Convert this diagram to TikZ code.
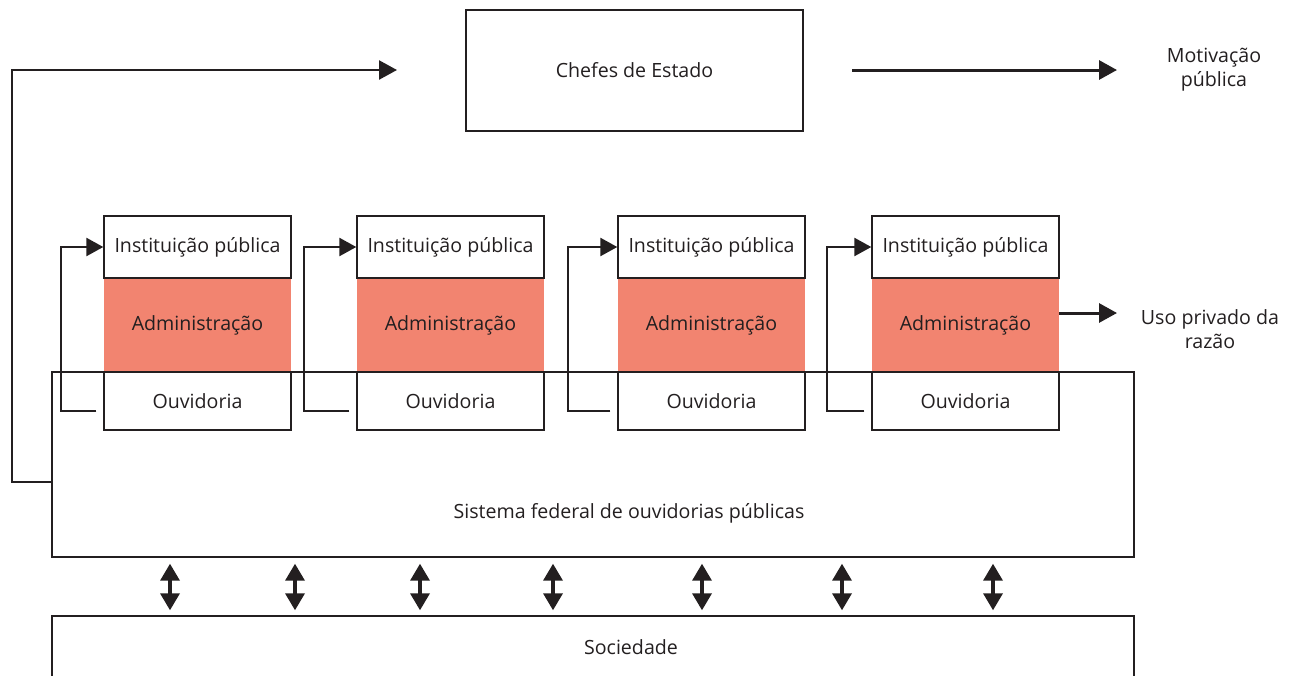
\documentclass[tikz,border=0pt]{standalone}
\usepackage{fontspec}
\setmainfont{Open Sans}
\usetikzlibrary{arrows.meta,calc}
\definecolor{salmon}{HTML}{F28470}
\definecolor{ink}{HTML}{231F20}
\begin{document}
\begin{tikzpicture}[x=1pt,y=-1pt,
  txt/.style={text=ink,font=\fontsize{19.6}{24}\selectfont},
  box/.style={txt,draw=ink,line width=1.4pt,fill=white,inner sep=0pt,rectangle},
  colbox/.style={box,minimum width=187pt},
  adm/.style={txt,fill=salmon,inner sep=0pt,minimum width=187pt,minimum height=94pt},
  arr/.style={draw=ink,line width=3pt,-{Triangle[length=18pt,width=19pt]}},
  fb/.style={draw=ink,line width=2.5pt,-{Triangle[length=17pt,width=18pt]}},
  dbl/.style={draw=ink,line width=3.5pt,{Triangle[length=17pt,width=19pt]}-{Triangle[length=17pt,width=19pt]}},
  side/.style={txt,align=center}
]
\clip (0,0) rectangle (1292,675);
\useasboundingbox (0,0) rectangle (1292,675);
\fill[white] (0,0) rectangle (1292,675);

% Chefes de Estado
\node[box,minimum width=337pt,minimum height=121pt] (chefes) at (634.5,70.5) {Chefes de Estado};
\coordinate (ctip) at (397,70);
\coordinate (mstart) at (852,70);
\coordinate (mtip) at (1117,70);
\node[side] (motiv) at (1214,70) {Motivação\\pública};

% Sistema federal
\node[box,fill=none,minimum width=1082pt,minimum height=185pt] (sis) at (593,464.5) {};
\node[txt] (sistxt) at (629,513) {Sistema federal de ouvidorias públicas};

% Sociedade
\node[box,fill=none,minimum width=1082pt,minimum height=70pt] (soc) at (593,651) {};
\node[txt] (soctxt) at (631,647) {Sociedade};

% Columns
\foreach \i/\x/\fx in {1/197.5/61,2/450.5/304,3/711.5/568,4/965.5/827}{
  \node[adm] (a\i) at (\x,325) {Administração};
  \node[colbox,minimum height=62pt] (i\i) at (\x,247) {Instituição pública};
  \node[colbox,minimum height=58pt] (o\i) at (\x,401) {Ouvidoria};
  \coordinate (fs\i) at ($(o\i.west)+(-7,10)$);
  \coordinate (fc\i) at (\fx,247);
  \draw[fb] (fs\i) -| (fc\i) -- (i\i.west);
}

% Top feedback
\coordinate (lcorner) at (12,482);
\coordinate (tcorner) at (12,70);
\draw[arr,line width=2.4pt] (sis.west |- lcorner) -- (lcorner) -- (tcorner) -- (ctip);
\draw[arr] (mstart) -- (mtip);

% Uso privado
\coordinate (utip) at (1117,313);
\draw[arr] (a4.east |- utip) -- (utip);
\node[side] (uso) at (1210,329) {Uso privado da\\razão};

% Double arrows
\foreach \x in {170,295,420,553,702,842,993}{
  \draw[dbl] ($(sis.south -| \x,0)+(0,6)$) -- ($(soc.north -| \x,0)+(0,-5)$);
}
\end{tikzpicture}
\end{document}
